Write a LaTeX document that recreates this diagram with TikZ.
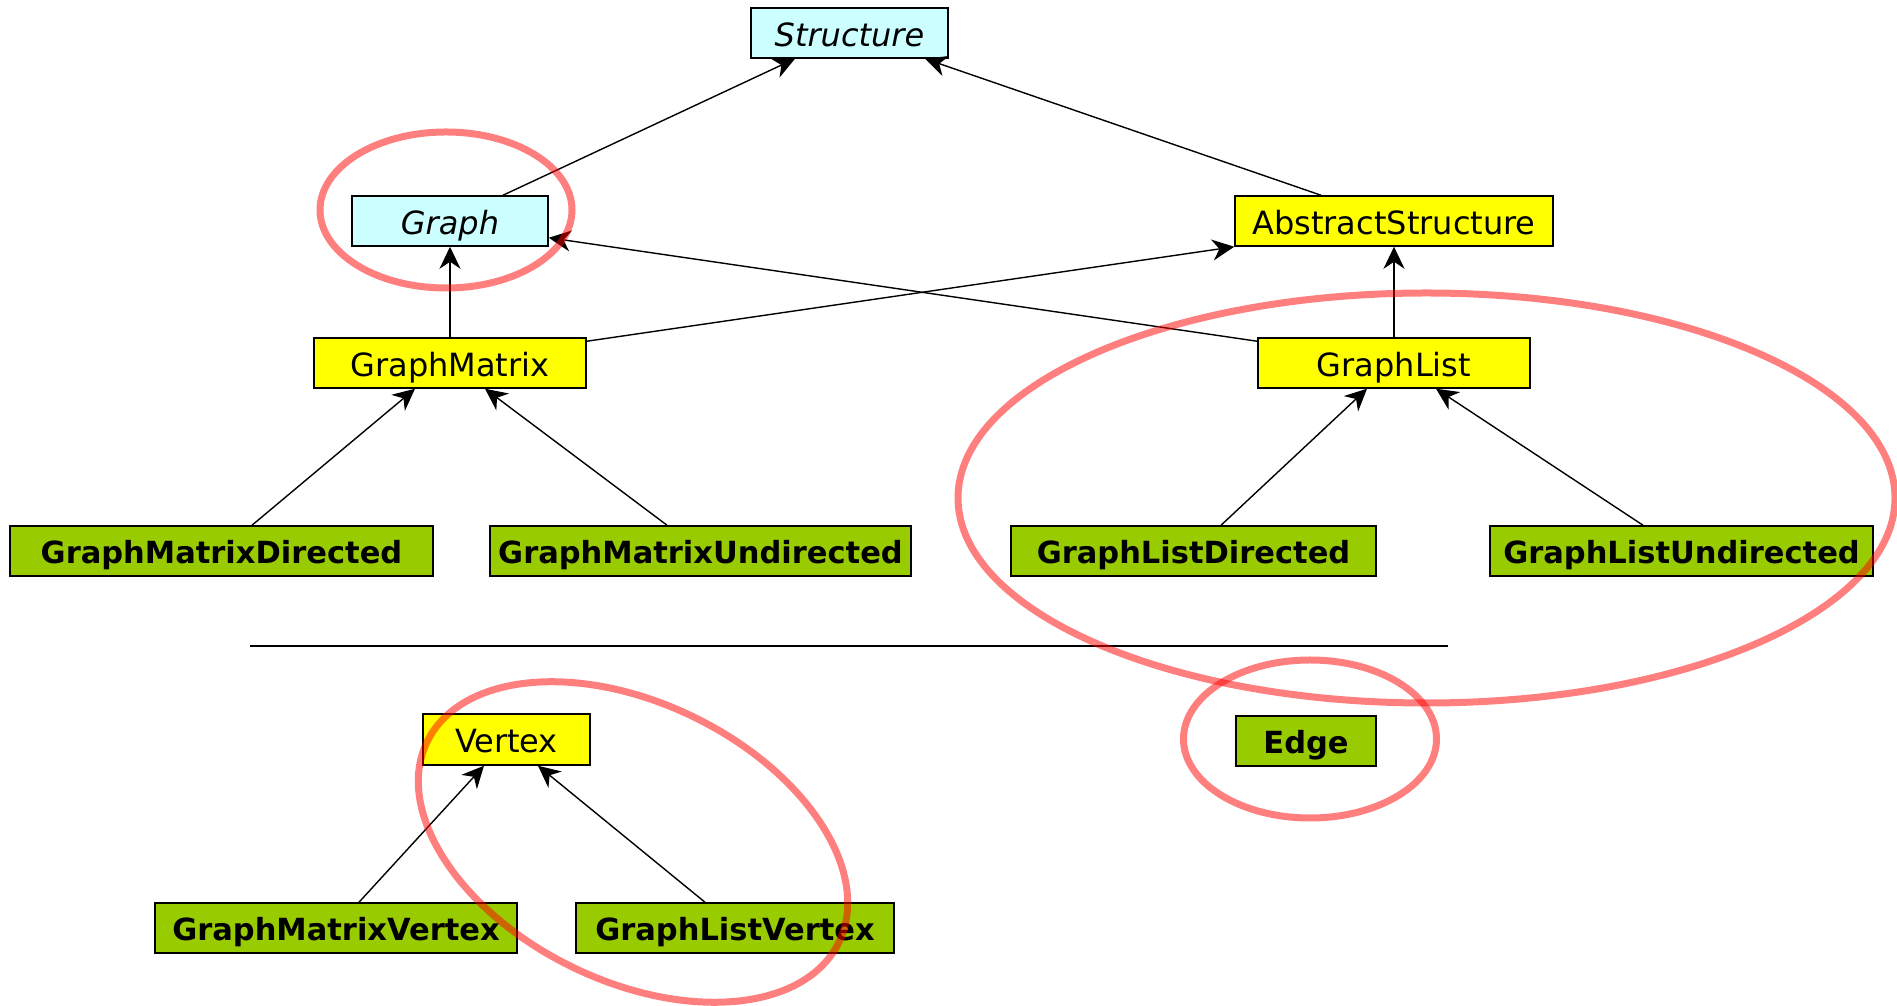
\documentclass[tikz,border=0pt]{standalone}
\usepackage{fontspec}
\setmainfont{DejaVu Sans}
\usetikzlibrary{arrows.meta}
\definecolor{abscyan}{HTML}{CCFFFF}
\definecolor{midyellow}{HTML}{FFFF00}
\definecolor{leafgreen}{HTML}{99CC00}
\tikzset{
  box/.style={draw=black, line width=1.5pt, inner sep=0pt, minimum height=50pt, anchor=center},
  abstractbox/.style={box, fill=abscyan, text height=27pt, text depth=0pt, font=\fontsize{32}{38}\selectfont\itshape},
  classbox/.style={box, fill=midyellow, text height=27pt, text depth=0pt, font=\fontsize{32}{38}\selectfont},
  leafbox/.style={box, fill=leafgreen, text height=26pt, text depth=0pt, font=\fontsize{30.5}{36}\selectfont\bfseries},
  inherit/.style={line width=1.4pt, -{Stealth[length=22pt,width=21pt,inset=7pt]}},
  highlight/.style={draw=red, draw opacity=0.5, line width=7pt},
}
\begin{document}
\begin{tikzpicture}[x=1pt,y=1pt]
\useasboundingbox (0,0) rectangle (1897,1006);
% nodes
\node[abstractbox, minimum width=197pt] (structure) at (849.5,973) {Structure};
\node[abstractbox, minimum width=196pt] (graph) at (450,785) {Graph};
\node[classbox, minimum width=318pt] (abstract) at (1394,785) {AbstractStructure};
\node[classbox, minimum width=272pt] (gmatrix) at (450,643) {GraphMatrix};
\node[classbox, minimum width=272pt] (glist) at (1394,643) {GraphList};
\node[leafbox, minimum width=423pt] (gmd) at (221.5,455) {GraphMatrixDirected};
\node[leafbox, minimum width=421pt] (gmu) at (700.5,455) {GraphMatrixUndirected};
\node[leafbox, minimum width=365pt] (gld) at (1193.5,455) {GraphListDirected};
\node[leafbox, minimum width=383pt] (glu) at (1681.5,455) {GraphListUndirected};
\node[classbox, minimum width=167pt, minimum height=51pt] (vertex) at (506.5,266.5) {Vertex};
\node[leafbox, minimum width=140pt] (edge) at (1306,265) {Edge};
\node[leafbox, minimum width=362pt] (gmv) at (336,78) {GraphMatrixVertex};
\node[leafbox, minimum width=318pt] (glv) at (735,78) {GraphListVertex};
% separator
\coordinate (sepL) at (250,360);
\coordinate (sepR) at (1448,360);
\draw[line width=1.2pt] (sepL) -- (sepR);
% inheritance connectors
\draw[inherit] ([xshift=53pt]graph.north) -- ([xshift=-54.5pt]structure.south);
\draw[inherit] ([xshift=-73pt]abstract.north) -- ([xshift=75.5pt]structure.south);
\draw[inherit] (gmatrix.north) -- (graph.south);
\draw[inherit] ([yshift=-4pt]gmatrix.north east) -- (abstract.south west);
\draw[inherit] ([yshift=-4pt]glist.north west) -- ([yshift=9pt]graph.south east);
\draw[inherit] (glist.north) -- (abstract.south);
\draw[inherit] ([xshift=30.5pt]gmd.north) -- ([xshift=-35pt]gmatrix.south);
\draw[inherit] ([xshift=-33.5pt]gmu.north) -- ([xshift=35pt]gmatrix.south);
\draw[inherit] ([xshift=27.5pt]gld.north) -- ([xshift=-27pt]glist.south);
\draw[inherit] ([xshift=-38.5pt]glu.north) -- ([xshift=42pt]glist.south);
\draw[inherit] ([xshift=23pt]gmv.north) -- ([xshift=-22.5pt]vertex.south);
\draw[inherit] ([xshift=-30pt]glv.north) -- ([xshift=31.5pt]vertex.south);
% highlight ellipses
\draw[highlight] (446,796) ellipse [x radius=126, y radius=78];
\draw[highlight] (1426.5,508) ellipse [x radius=468.5, y radius=205];
\draw[highlight] (1310,267) ellipse [x radius=126.5, y radius=79];
\draw[highlight, rotate around={-26:(633,164)}] (633,164) ellipse [x radius=229, y radius=139];
\end{tikzpicture}
\end{document}
